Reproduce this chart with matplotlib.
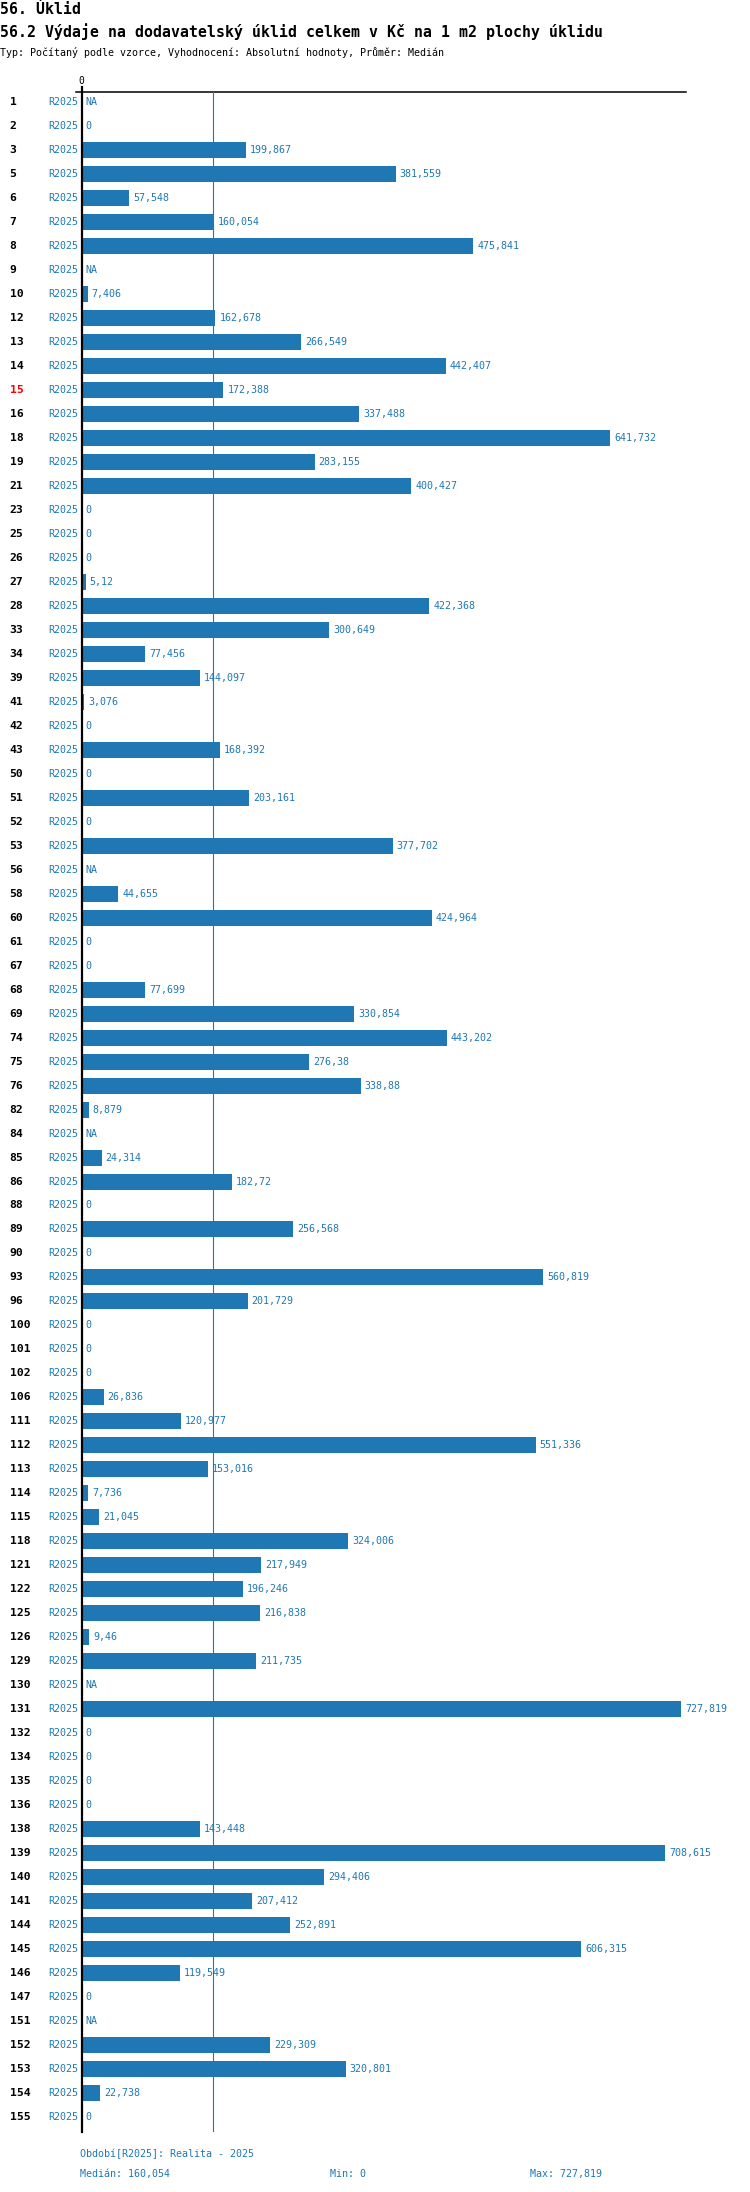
import matplotlib
matplotlib.use("Agg")
import matplotlib.pyplot as plt
import numpy as np

plt.rcParams['font.family'] = ['DejaVu Sans Mono']

# row ids and values (None = NA)
rows = [1, 2, 3, 5, 6, 7, 8, 9, 10, 12, 13, 14, 15, 16, 18, 19, 21, 23, 25, 26,
        27, 28, 33, 34, 39, 41, 42, 43, 50, 51, 52, 53, 56, 58, 60, 61, 67, 68, 69, 74,
        75, 76, 82, 84, 85, 86, 88, 89, 90, 93, 96, 100, 101, 102, 106, 111, 112, 113, 114, 115,
        118, 121, 122, 125, 126, 129, 130, 131, 132, 134, 135, 136, 138, 139, 140, 141, 144, 145, 146, 147,
        151, 152, 153, 154, 155]
values = [None, 0, 199.867, 381.559, 57.548, 160.054, 475.841, None, 7.406, 162.678,
          266.549, 442.407, 172.388, 337.488, 641.732, 283.155, 400.427, 0, 0, 0,
          5.12, 422.368, 300.649, 77.456, 144.097, 3.076, 0, 168.392, 0, 203.161,
          0, 377.702, None, 44.655, 424.964, 0, 0, 77.699, 330.854, 443.202,
          276.38, 338.88, 8.879, None, 24.314, 182.72, 0, 256.568, 0, 560.819,
          201.729, 0, 0, 0, 26.836, 120.977, 551.336, 153.016, 7.736, 21.045,
          324.006, 217.949, 196.246, 216.838, 9.46, 211.735, None, 727.819, 0, 0,
          0, 0, 143.448, 708.615, 294.406, 207.412, 252.891, 606.315, 119.549, 0,
          None, 229.309, 320.801, 22.738, 0]
period = "R2025"
highlight = 15

title1 = "56. Úklid"
title2 = "56.2 Výdaje na dodavatelský úklid celkem v Kč na 1 m2 plochy úklidu"
title3 = "Typ: Počítaný podle vzorce, Vyhodnocení: Absolutní hodnoty, Průměr: Medián"
footer = "Období[R2025]: Realita - 2025"

BLUE = '#1f77b4'
W, H = 750, 2192


def fmt(v):
    if v is None:
        return "NA"
    s = ("%.3f" % v).rstrip('0').rstrip('.')
    return s.replace('.', ',')


def fx(px):
    return px / W


def fy(py):
    return 1 - py / H


valid = np.array([v for v in values if v is not None])
med = np.median(valid)

fig = plt.figure(figsize=(7.5, 21.92), dpi=100)
ax = fig.add_axes([fx(81.5), fy(2132), fx(686) - fx(81.5), fy(92) - fy(2132)])

n = len(rows)
ypos = np.arange(n)
widths = [0 if v is None else v for v in values]
ax.barh(ypos, widths, height=0.667, color=BLUE, left=0)

xmax = 733.9
ax.set_xlim(0, xmax)
ax.set_ylim(n - 1 + 0.625, -0.42)
ax.axis('off')

# axis lines
ax.plot([0, 0], [-0.63, n - 1 + 0.625], color='black', lw=1.6, clip_on=False)
ax.plot([-5.5 / 604.5 * xmax, xmax], [-0.42, -0.42], color='black', lw=1.1, clip_on=False)
ax.axvline(med, color=BLUE, lw=0.8)
ax.text(0, -0.88, "0", ha='center', va='center', fontsize=7, color='black')

for i, (r, v) in enumerate(zip(rows, values)):
    w = 0 if v is None else v
    ax.text(w + 4 / 0.8244, i, fmt(v), ha='left', va='center', fontsize=7.2, color=BLUE)
    ax.text(-3.5 / 0.8244, i, period, ha='right', va='center', fontsize=7.2, color=BLUE)
    ax.text(-72 / 0.8244, i, str(r), ha='left', va='center', fontsize=8.2,
            fontweight='bold', color='red' if r == highlight else 'black')

fig.text(fx(0), fy(10), title1, ha='left', va='center', fontsize=10.7, fontweight='bold')
fig.text(fx(0), fy(32), title2, ha='left', va='center', fontsize=10.7, fontweight='bold')
fig.text(fx(0), fy(52), title3, ha='left', va='center', fontsize=7.2)

fig.text(fx(80), fy(2154), footer, ha='left', va='center', fontsize=7.2, color=BLUE)
fig.text(fx(80), fy(2174), "Medián: " + fmt(med), ha='left', va='center', fontsize=7.2, color=BLUE)
fig.text(fx(330), fy(2174), "Min: " + fmt(valid.min()), ha='left', va='center', fontsize=7.2, color=BLUE)
fig.text(fx(530), fy(2174), "Max: " + fmt(valid.max()), ha='left', va='center', fontsize=7.2, color=BLUE)

fig.savefig("out.png", dpi=100)
